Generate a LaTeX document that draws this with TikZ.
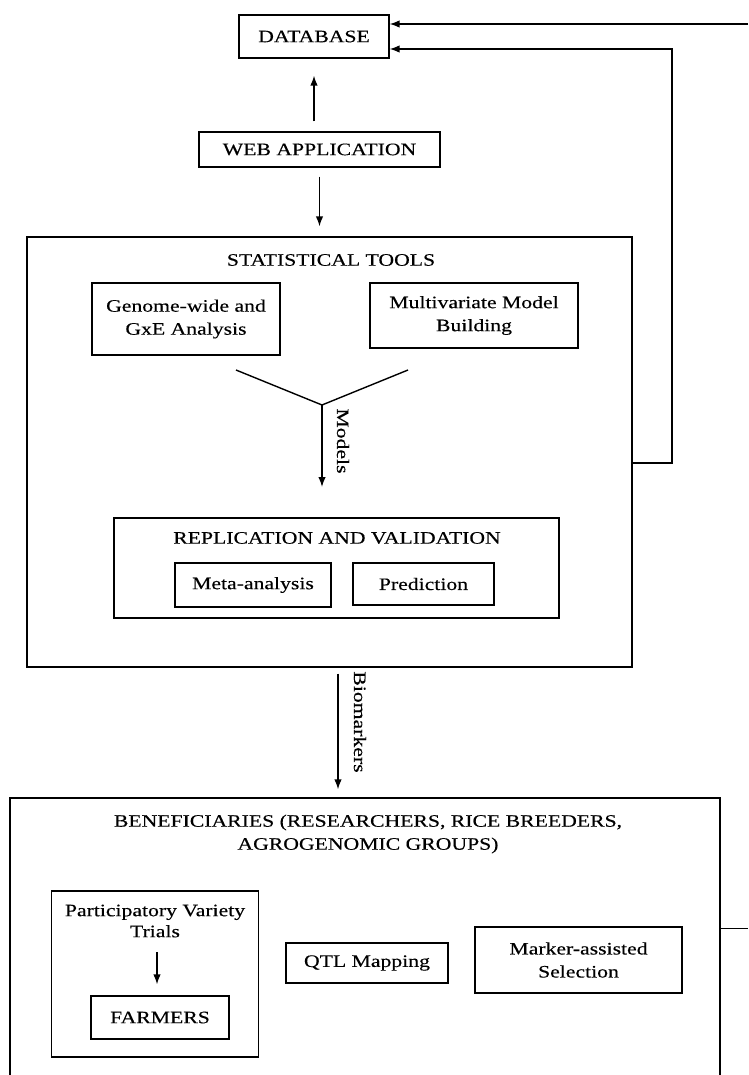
\documentclass[tikz,border=0pt]{standalone}
\usepackage{fontspec}
\setmainfont{Liberation Serif}[FakeStretch=1.24,FakeBold=0.3]
\usetikzlibrary{arrows.meta}

\begin{document}
\begin{tikzpicture}[x=1pt,y=-1pt,
  font=\fontsize{17.5}{23}\selectfont,
  box/.style={draw, line width=1.3pt, inner sep=0pt, align=center},
  lbl/.style={inner sep=0pt, align=center},
  arr/.style={line width=1.4pt, -{Latex[length=10pt,width=7.5pt]}}]
\useasboundingbox (0,0) rectangle (748,1075);
\clip (0,0) rectangle (748,1075);

\node[box, minimum width=150pt, minimum height=43pt] (database) at (314,36.5) {DATABASE};
\node[box, minimum width=241pt, minimum height=35pt] (web) at (319.5,149.5) {WEB APPLICATION};

\node[box, minimum width=605pt, minimum height=430pt] (stat) at (329.5,452) {};
\node[lbl] (stattitle) at (331,260) {STATISTICAL TOOLS};
\node[box, minimum width=188pt, minimum height=72pt] (genome) at (186,319) {Genome-wide and\\GxE Analysis};
\node[box, minimum width=208pt, minimum height=65pt] (multi) at (474,315.5) {Multivariate Model\\Building};

\coordinate (yl) at (236,370);
\coordinate (yr) at (408,370);
\coordinate (yj) at (322,405);
\coordinate (mtip) at (322,487);
\node[lbl, rotate=-90] (models) at (343,441) {Models};

\node[box, minimum width=445pt, minimum height=100pt] (repl) at (336.5,568) {};
\node[lbl] (repltitle) at (337,538) {REPLICATION AND VALIDATION};
\node[box, minimum width=156pt, minimum height=44pt] (meta) at (253,585) {Meta-analysis};
\node[box, minimum width=141pt, minimum height=42pt] (pred) at (423.5,584) {Prediction};

\node[lbl, rotate=-90] (biomark) at (360,722) {Biomarkers};

\node[box, minimum width=710pt, minimum height=292pt] (bene) at (365,944) {};
\node[lbl] (benetitle) at (368,834) {BENEFICIARIES (RESEARCHERS, RICE BREEDERS,\\AGROGENOMIC GROUPS)};
\node[box, minimum width=207pt, minimum height=166pt] (part) at (155,974) {};
\node[lbl, font=\fontsize{17.5}{21}\selectfont] (parttitle) at (155,921) {Participatory Variety\\Trials};
\node[box, minimum width=138pt, minimum height=43pt] (farmers) at (160,1017.5) {FARMERS};
\node[box, minimum width=162pt, minimum height=40pt] (qtl) at (367,963) {QTL Mapping};
\node[box, minimum width=207pt, minimum height=66pt] (marker) at (578.5,960) {Marker-assisted\\Selection};

\coordinate (fa) at (748,24);
\coordinate (fb) at (672,463);
\coordinate (fbtop) at (672,49);
\coordinate (ptop) at (157,952);
\coordinate (rs) at (748,928);

\path[draw,arr] (fa) -- (database.east |- fa);
\path[draw,arr] (stat.east |- fb) -- (fb) -- (fbtop) -- (database.east |- fbtop);
\path[draw,arr,shorten <=10pt,shorten >=17pt] (web.north -| database.south) -- (database.south);
\path[draw,arr,shorten <=9pt,shorten >=10pt] (web.south) -- (web.south |- stat.north);
\path[draw,line width=1.4pt] (yl) -- (yj) -- (yr);
\path[draw,arr] (yj) -- (mtip);
\path[draw,arr,shorten <=6pt,shorten >=8pt] ([xshift=8.5pt]stat.south) -- ([xshift=8.5pt]stat.south |- bene.north);
\path[draw,arr,shorten >=11pt] (ptop) -- (ptop |- farmers.north);
\path[draw,line width=0.8pt] (bene.east |- rs) -- (rs);
\end{tikzpicture}
\end{document}
